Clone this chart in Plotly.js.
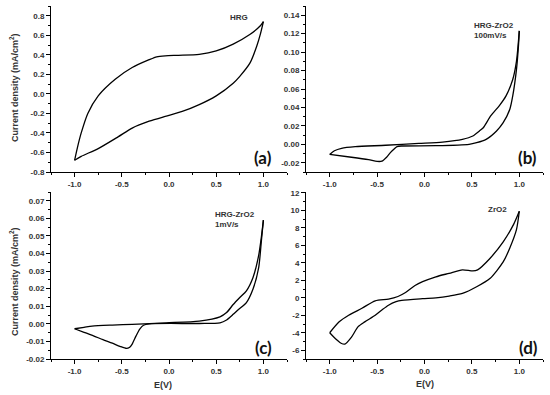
<!DOCTYPE html>
<html>
<head>
<meta charset="utf-8">
<script src="https://cdn.plot.ly/plotly-3.0.1.min.js"></script>
<style>html,body{margin:0;padding:0;background:#fff}#chart{width:550px;height:395px}</style>
</head>
<body>
<div id="chart"></div>
<script>
// ---- Data ----
// (a) HRG
const aFwdE = [-1.0,-0.97,-0.93,-0.86,-0.75,-0.57,-0.39,-0.21,-0.13,-0.04,0.1,0.32,0.5,0.68,0.86,0.97,1.0];
const aFwdI = [-0.68,-0.55,-0.40,-0.20,-0.02,0.15,0.27,0.35,0.38,0.39,0.395,0.405,0.44,0.51,0.61,0.70,0.74];
const aRevE = [1.0,0.97,0.93,0.86,0.75,0.68,0.5,0.32,0.14,-0.04,-0.21,-0.39,-0.54,-0.75,-0.93,-1.0];
const aRevI = [0.74,0.62,0.49,0.32,0.18,0.11,-0.02,-0.11,-0.18,-0.23,-0.28,-0.35,-0.44,-0.56,-0.64,-0.68];
// (b) HRG-ZrO2 100mV/s
const bFwdE = [-1.0,-0.95,-0.875,-0.73,-0.41,-0.06,0.19,0.4,0.51,0.58,0.62,0.7,0.79,0.86,0.93,0.97,1.0];
const bFwdI = [-0.011,-0.007,-0.0043,-0.0025,-0.001,0.001,0.0025,0.0054,0.009,0.0145,0.018,0.031,0.042,0.0525,0.07,0.09,0.123];
const bRevE = [1.0,0.99,0.97,0.93,0.9,0.83,0.76,0.65,0.55,0.47,0.12,-0.24,-0.29,-0.32,-0.36,-0.40,-0.45,-0.50,-0.59,-0.77,-1.0];
const bRevI = [0.123,0.105,0.081,0.052,0.038,0.0235,0.0145,0.0054,0.0018,0.0,-0.0015,-0.0018,-0.0025,-0.005,-0.009,-0.014,-0.0183,-0.0185,-0.0167,-0.014,-0.011];
// (c) HRG-ZrO2 1mV/s
const cFwdE = [-1.0,-0.9,-0.815,-0.6,-0.39,-0.03,0.32,0.54,0.61,0.68,0.75,0.82,0.89,0.95,0.98,1.0];
const cFwdI = [-0.0028,-0.002,-0.0013,-0.0007,-0.0003,0.0006,0.0016,0.004,0.0064,0.011,0.015,0.0188,0.0264,0.039,0.05,0.059];
const cRevE = [1.0,0.98,0.95,0.89,0.82,0.73,0.68,0.61,0.54,0.32,-0.21,-0.27,-0.31,-0.35,-0.39,-0.42,-0.45,-0.52,-0.6,-0.7,-0.8,-0.9,-1.0];
const cRevI = [0.059,0.048,0.032,0.0198,0.0121,0.0079,0.0054,0.0022,0.0006,0.0002,0.0,-0.0008,-0.003,-0.007,-0.0115,-0.0135,-0.014,-0.0128,-0.011,-0.009,-0.0068,-0.0048,-0.0028];
// (d) ZrO2
const dFwdE = [-1.0,-0.9,-0.8,-0.66,-0.52,-0.38,-0.28,-0.2,-0.1,-0.02,0.12,0.26,0.4,0.51,0.56,0.69,0.83,0.94,1.0];
const dFwdI = [-4.0,-2.75,-2.0,-1.2,-0.35,-0.15,0.15,0.6,1.4,1.84,2.4,2.8,3.2,3.07,3.2,4.5,6.4,8.4,9.9];
const dRevE = [1.0,0.97,0.9,0.83,0.69,0.55,0.4,0.26,0.12,-0.02,-0.24,-0.3,-0.38,-0.45,-0.52,-0.63,-0.7,-0.77,-0.84,-0.88,-0.92,-0.96,-1.0];
const dRevI = [9.9,7.8,5.7,4.1,2.2,1.26,0.5,0.2,0.0,-0.1,-0.3,-0.45,-0.85,-1.4,-2.0,-2.75,-3.3,-4.5,-5.3,-5.2,-4.85,-4.45,-4.0];

// ---- Tick labels ----
const xTickVals = [-1.0,-0.5,0.0,0.5,1.0];
const xTickText = ['-1.0','-0.5','0.0','0.5','1.0'];
const aTickVals = [-0.8,-0.6,-0.4,-0.2,0.0,0.2,0.4,0.6,0.8];
const aTickText = ['-0.8','-0.6','-0.4','-0.2','0.0','0.2','0.4','0.6','0.8'];
const bTickVals = [-0.02,0.0,0.02,0.04,0.06,0.08,0.10,0.12,0.14];
const bTickText = ['-0.02','0.00','0.02','0.04','0.06','0.08','0.10','0.12','0.14'];
const cTickVals = [-0.02,-0.01,0.0,0.01,0.02,0.03,0.04,0.05,0.06,0.07];
const cTickText = ['-0.02','-0.01','0.00','0.01','0.02','0.03','0.04','0.05','0.06','0.07'];
const dTickVals = [-6,-4,-2,0,2,4,6,8,10,12];
const dTickText = ['-6','-4','-2','0','2','4','6','8','10','12'];

// ---- Text ----
const yTitle = 'Current density (mA/cm<sup>2</sup>)';
const xTitle = 'E(V)';
const sampleLabels = ['HRG', 'HRG-ZrO2<br>100mV/s', 'HRG-ZrO2<br>1mV/s', 'ZrO2'];
const panelLabels = ['(a)', '(b)', '(c)', '(d)'];

const lineStyle = {color: '#000', width: 1.3, shape: 'spline', smoothing: 0.7};
function tr(x, y, xa, ya) {
  return {x: x, y: y, xaxis: xa, yaxis: ya, type: 'scatter', mode: 'lines', line: lineStyle, hoverinfo: 'none'};
}
const data = [
  tr(aFwdE, aFwdI, 'x', 'y'), tr(aRevE, aRevI, 'x', 'y'),
  tr(bFwdE, bFwdI, 'x2', 'y2'), tr(bRevE, bRevI, 'x2', 'y2'),
  tr(cFwdE, cFwdI, 'x3', 'y3'), tr(cRevE, cRevI, 'x3', 'y3'),
  tr(dFwdE, dFwdI, 'x4', 'y4'), tr(dRevE, dRevI, 'x4', 'y4')
];

const tickFont = {family: 'Liberation Sans, Arial, sans-serif', size: 8, color: '#333', weight: 'bold'};
function xAxis(domain, anchor) {
  return {domain: domain, anchor: anchor, range: [-1.25, 1.25], tickmode: 'array',
    tickvals: xTickVals, ticktext: xTickText, showline: true, linecolor: '#000', linewidth: 1,
    ticks: 'outside', ticklen: 4, tickcolor: '#000', tickwidth: 1, showgrid: false, zeroline: false,
    tickfont: tickFont, fixedrange: true,
    minor: {tickmode: 'linear', tick0: 0, dtick: 0.25, ticks: 'outside', ticklen: 2, tickcolor: '#000', showgrid: false}};
}
function yAxis(domain, anchor, range, vals, text, minorD) {
  return {domain: domain, anchor: anchor, range: range, tickmode: 'array',
    tickvals: vals, ticktext: text, showline: true, linecolor: '#000', linewidth: 1,
    ticks: 'outside', ticklen: 4, tickcolor: '#000', tickwidth: 1, showgrid: false, zeroline: false,
    tickfont: tickFont, fixedrange: true,
    minor: {tickmode: 'linear', tick0: 0, dtick: minorD, ticks: 'outside', ticklen: 2, tickcolor: '#000', showgrid: false}};
}
const xL = [51/550, 287/550], xR = [306/550, 543/550];
const yT = [1 - 172/395, 1 - 6/395], yB = [1 - 359/395, 1 - 192/395];

function px(x) { return x / 550; }
function py(y) { return 1 - y / 395; }
const smallFont = {family: 'Liberation Sans, Arial, sans-serif', size: 8, color: '#333', weight: 'bold'};
const bigFont = {family: 'Lato, Open Sans, sans-serif', size: 17, color: '#111', weight: 'bold'};
const titleFont = {family: 'Liberation Sans, Arial, sans-serif', size: 9, color: '#333', weight: 'bold'};
function ann(text, x, y, font, opts) {
  return Object.assign({text: text, x: px(x), y: py(y), xref: 'paper', yref: 'paper', showarrow: false, font: font, xanchor: 'center', yanchor: 'middle'}, opts || {});
}
const annotations = [
  ann(sampleLabels[0], 239, 17, smallFont),
  ann(sampleLabels[1], 472, 19, smallFont, {xanchor: 'left', yanchor: 'top', align: 'left'}),
  ann(sampleLabels[2], 213, 208, smallFont, {xanchor: 'left', yanchor: 'top', align: 'left'}),
  ann(sampleLabels[3], 498, 210, smallFont),
  ann(panelLabels[0], 263, 157, bigFont),
  ann(panelLabels[1], 527, 157, bigFont),
  ann(panelLabels[2], 263, 347, bigFont),
  ann(panelLabels[3], 528, 347, bigFont),
  ann(yTitle, 14, 88, titleFont, {textangle: -90}),
  ann(yTitle, 14, 282, titleFont, {textangle: -90}),
  ann(xTitle, 163, 385, titleFont),
  ann(xTitle, 425, 384, titleFont)
];

const layout = {
  width: 550, height: 395, margin: {l: 0, r: 0, t: 0, b: 0},
  paper_bgcolor: '#fff', plot_bgcolor: '#fff', showlegend: false,
  xaxis: xAxis(xL, 'y'),
  yaxis: yAxis(yT, 'x', [-0.8, 0.9], aTickVals, aTickText, 0.1),
  xaxis2: xAxis(xR, 'y2'),
  yaxis2: yAxis(yT, 'x2', [-0.03, 0.15], bTickVals, bTickText, 0.01),
  xaxis3: xAxis(xL, 'y3'),
  yaxis3: yAxis(yB, 'x3', [-0.02, 0.075], cTickVals, cTickText, 0.005),
  xaxis4: xAxis(xR, 'y4'),
  yaxis4: yAxis(yB, 'x4', [-7, 12.1], dTickVals, dTickText, 1),
  annotations: annotations
};
Plotly.newPlot('chart', data, layout, {staticPlot: true, displayModeBar: false});
</script>
</body>
</html>
